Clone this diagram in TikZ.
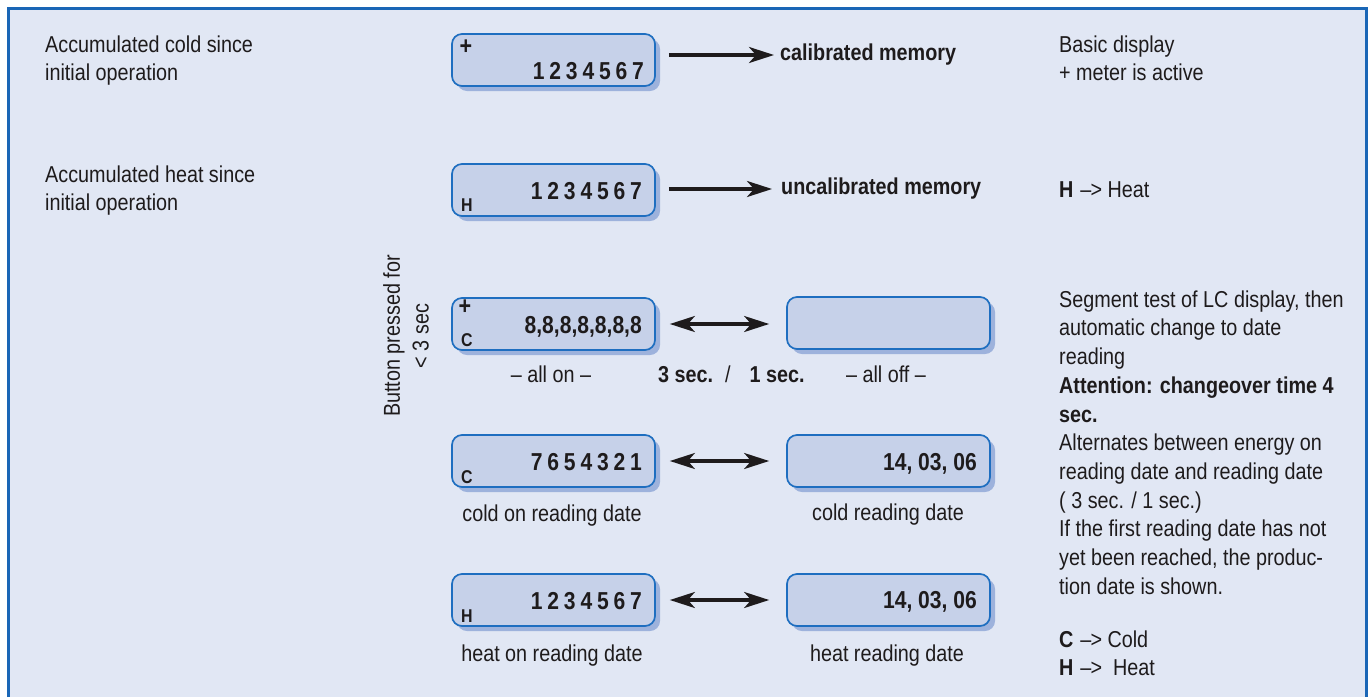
\documentclass[tikz,border=0pt]{standalone}
\usepackage{fontspec}
\setmainfont[FakeStretch=0.86]{Liberation Sans}
\usetikzlibrary{arrows.meta,shadows,calc}
\definecolor{bg}{HTML}{E1E7F4}
\definecolor{framecol}{HTML}{1A66B6}
\definecolor{lcdfill}{HTML}{C6D1E9}
\definecolor{lcdedge}{HTML}{1E6EC0}
\definecolor{lcdshade}{HTML}{9DB2DC}
\definecolor{ink}{HTML}{1E1B1C}
\newcommand\ds{\hspace{4.8pt}}
\newcommand\topstrut{\rule{0pt}{20pt}}
\begin{document}
\begin{tikzpicture}[x=1pt,y=-1pt,
  lcd/.style={draw=lcdedge, line width=1.7pt, fill=lcdfill, rounded corners=10pt,
    minimum width=203pt, minimum height=52pt, inner sep=0pt,
    drop shadow={shadow xshift=5pt, shadow yshift=-5pt, fill=lcdshade, opacity=1}},
  txt/.style={font=\fontsize{23}{28.7}\selectfont, text=ink, inner sep=0pt, anchor=base west},
  para/.style={txt, anchor=north west, align=left},
  lbl/.style={txt, anchor=base},
  digit/.style={font=\fontsize{24.5}{24.5}\selectfont\bfseries, text=ink, inner sep=0pt, anchor=base east},
  tag/.style={font=\fontsize{18.5}{18.5}\selectfont\bfseries, text=ink, inner sep=0pt, anchor=base west},
  plus/.style={font=\fontsize{25}{25}\selectfont\bfseries, text=ink, inner sep=0pt, anchor=center},
  arr/.style={-{Stealth[length=25pt,width=16pt,inset=7pt]}, line width=3.2pt, draw=ink},
  dbl/.style={{Stealth[length=25pt,width=16pt,inset=7pt]}-{Stealth[length=25pt,width=16pt,inset=7pt]}, line width=3.2pt, draw=ink}]
\useasboundingbox (0,0) rectangle (1368,697);
% panel
\fill[white] (0,0) rectangle (1368,697);
\fill[bg] (8.5,8.5) rectangle (1366.5,697);
\draw[framecol, line width=3pt] (8.5,697) -- (8.5,8.5) -- (1366.5,8.5) -- (1366.5,697);

% left descriptions
\node[para] (coldtxt) at (45,32) {\topstrut Accumulated cold since\\initial operation};
\node[para] (heattxt) at (45,162) {\topstrut Accumulated heat since\\initial operation};

% displays
\node[lcd] (b1) at (553.5,60) {};
\node[lcd] (b2) at (553.5,190) {};
\node[lcd] (b3) at (553.5,324) {};
\node[lcd] (b4) at (888.5,323) {};
\node[lcd] (b5) at (553.5,461) {};
\node[lcd] (b7) at (888.5,461) {};
\node[lcd] (b6) at (553.5,600) {};
\node[lcd] (b8) at (888.5,600) {};

% display contents
\node[digit] (d1) at (644,79) {1\ds2\ds3\ds4\ds5\ds6\ds7};
\node[plus] (p1) at (466,47) {+};
\node[digit] (d2) at (642,199) {1\ds2\ds3\ds4\ds5\ds6\ds7};
\node[tag] (h2) at (461,211) {H};
\node[digit] (d3) at (642,333) {8,8,8,8,8,8,8};
\node[plus] (p3) at (465,307) {+};
\node[tag] (c3) at (461,346) {C};
\node[digit] (d5) at (642,470) {7\ds6\ds5\ds4\ds3\ds2\ds1};
\node[tag] (c5) at (461,483) {C};
\node[digit] (d7) at (977,470) {14, 03, 06};
\node[digit] (d6) at (642,609) {1\ds2\ds3\ds4\ds5\ds6\ds7};
\node[tag] (h6) at (461,622) {H};
\node[digit] (d8) at (977,608) {14, 03, 06};

% memory labels and arrows
\node[txt, anchor=west, font=\fontsize{23}{28.7}\selectfont\bfseries] (cal) at (780,55) {calibrated memory};
\node[txt, anchor=west, font=\fontsize{23}{28.7}\selectfont\bfseries] (uncal) at (781,189) {uncalibrated memory};
\draw[arr] ([xshift=13pt,yshift=5pt]b1.east) -- ([xshift=-6pt]cal.west);
\draw[arr] ([xshift=13pt]b2.east |- uncal.west) -- ([xshift=-9pt]uncal.west);

% button hint
\node[txt, anchor=center, align=center, rotate=90] (btn) at (406,336) {Button pressed for\\< 3 sec};

% alternating displays
\draw[dbl] ([xshift=14pt]b3.east) -- ([xshift=-17pt]b4.west |- b3.east);
\draw[dbl] ([xshift=14pt]b5.east) -- ([xshift=-17pt]b7.west);
\draw[dbl] ([xshift=14pt]b6.east) -- ([xshift=-17pt]b8.west);

% captions
\node[lbl] (allon) at (551,382) {– all on –};
\node[lbl] (alloff) at (886,382) {– all off –};
\node[txt] (times) at (658,382) {\textbf{3 sec.}\hspace{12pt}/\hspace{19pt}\textbf{1 sec.}};
\node[lbl] (coldon) at (552,521) {cold on reading date};
\node[lbl] (colddate) at (888,520) {cold reading date};
\node[lbl] (heaton) at (552,661) {heat on reading date};
\node[lbl] (heatdate) at (887,661) {heat reading date};

% right column notes
\node[para] (basic) at (1059,32) {\topstrut Basic display\\+ meter is active};
\node[txt] (hnote) at (1059,197) {\textbf{H}\hspace{7pt}–\kern-1pt> Heat};
\node[para] (seg) at (1059,287) {\topstrut Segment test of LC display, then\\
automatic change to date\\
reading\\
\textbf{Attention: changeover time 4}\\
\textbf{sec.}\\
Alternates between energy on\\
reading date and reading date\\
( 3 sec. / 1 sec.)\\
If the first reading date has not\\
yet been reached, the produc-\\
tion date is shown.};
\node[para] (legend) at (1059,627) {\topstrut\textbf{C}\hspace{7pt}–\kern-1pt> Cold\\\textbf{H}\hspace{7pt}–\kern-1pt> \ Heat};
\end{tikzpicture}
\end{document}
